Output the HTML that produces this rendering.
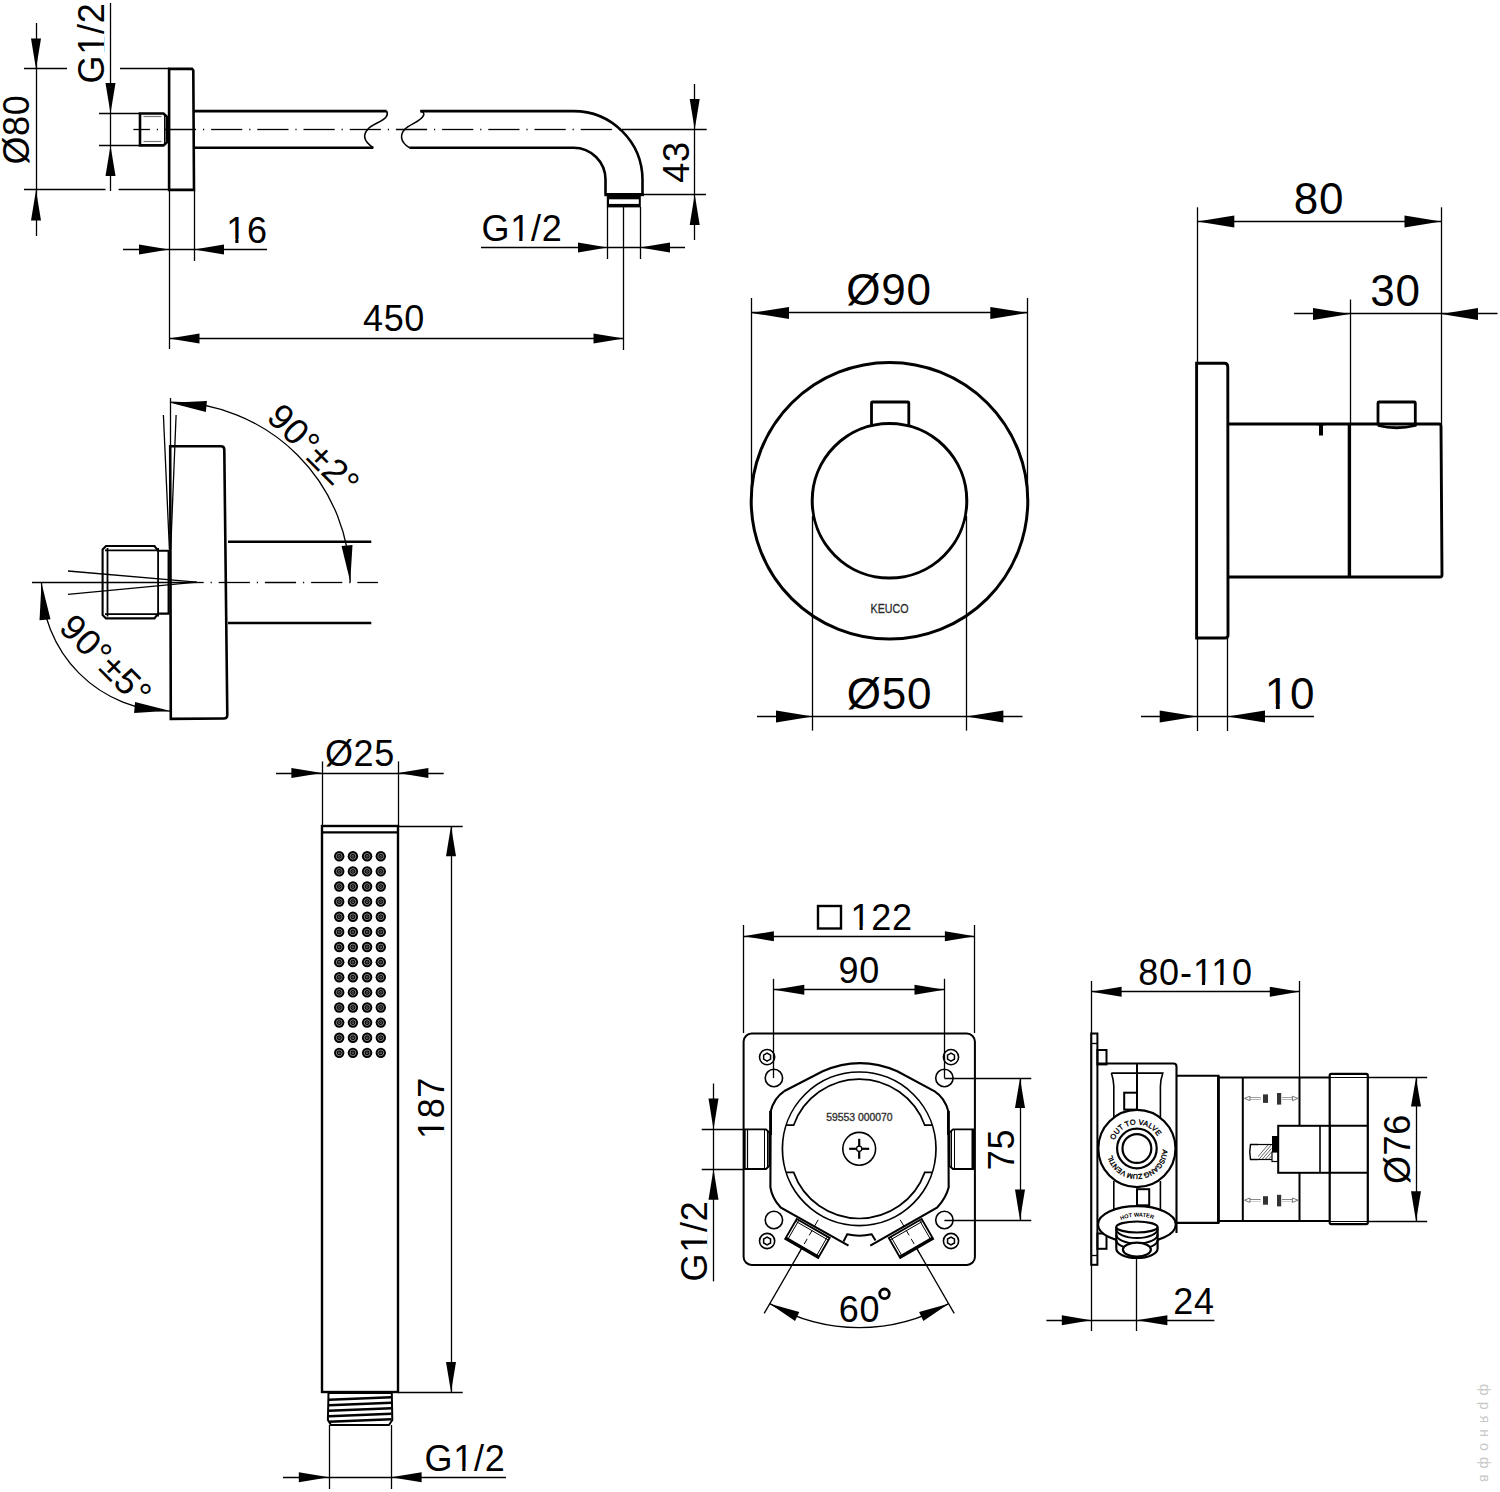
<!DOCTYPE html>
<html><head><meta charset="utf-8"><title>drawing</title>
<style>html,body{margin:0;padding:0;background:#fff;width:1500px;height:1492px;overflow:hidden}svg{display:block}text{font-family:"Liberation Sans",sans-serif}</style>
</head><body>
<svg width="1500" height="1492" viewBox="0 0 1500 1492" stroke="#000" stroke-linecap="butt" fill="none" font-family="Liberation Sans, sans-serif">
<line x1="36.5" y1="23" x2="36.5" y2="236" stroke-width="1.3"/>
<path d="M36 68.9 L31 38.5 L41 38.5 Z" fill="#000" stroke="none"/>
<path d="M36 189.9 L41 220.5 L31 220.5 Z" fill="#000" stroke="none"/>
<line x1="24" y1="68.5" x2="67" y2="68.5" stroke-width="1.3"/>
<line x1="120" y1="68.5" x2="169" y2="68.5" stroke-width="1.3"/>
<line x1="24" y1="189.5" x2="105.5" y2="189.5" stroke-width="1.3"/>
<line x1="118.6" y1="189.5" x2="169" y2="189.5" stroke-width="1.3"/>
<text x="29" y="129.5" font-size="36" text-anchor="middle" fill="#000" stroke="none" transform="rotate(-90 29 129.5)" letter-spacing="0.7">Ø80</text>
<line x1="110.5" y1="3" x2="110.5" y2="191" stroke-width="1.3"/>
<path d="M110.5 113.5 L105.5 83 L115.5 83 Z" fill="#000" stroke="none"/>
<path d="M110.5 145.4 L115.5 176 L105.5 176 Z" fill="#000" stroke="none"/>
<line x1="99" y1="113.5" x2="140" y2="113.5" stroke-width="1.3"/>
<line x1="99" y1="145.5" x2="140" y2="145.5" stroke-width="1.3"/>
<text x="103.5" y="43" font-size="36" text-anchor="middle" fill="#000" stroke="none" transform="rotate(-90 103.5 43)" letter-spacing="0.7">G1/2</text>
<path d="M140 113.5 L163.5 113.5 L166.7 116.5 L166.7 142.5 L163.5 145.4 L140 145.4 Z" stroke-width="2.6" fill="none"/>
<line x1="143.5" y1="116.5" x2="161.5" y2="116.5" stroke-width="1.2" stroke="#777"/>
<line x1="143.5" y1="141.5" x2="161.5" y2="141.5" stroke-width="1.2" stroke="#777"/>
<line x1="164.5" y1="115" x2="164.5" y2="144" stroke-width="1"/>
<path d="M169.1 68.9 L192 68.9 L193.3 70.5 L194 189.9 L169.1 189.9 Z" stroke-width="2.6" fill="none"/>
<path d="M193.5 111.1 L386.7 111.1" stroke-width="2.6" fill="none"/>
<path d="M193.5 147.7 L373.3 147.7" stroke-width="2.6" fill="none"/>
<path d="M386.7 111.1 C387.5 113 387.5 115 386.5 116.3 C383 122 372 124 368 129 C363.5 134 362 140 373.3 147.7" stroke-width="1.6" fill="none"/>
<path d="M420.3 111.1 C423 111.5 424.2 113 423.7 115 C422 121 410 124 405 129 C400.5 134 399 141 409.3 147.7" stroke-width="1.6" fill="none"/>
<path d="M409.3 147.7 L573.5 147.7 A32 32 0 0 1 605.5 179.6 L605.5 193.5" stroke-width="2.6" fill="none"/>
<path d="M420.3 111.1 L573.5 111.1 A69 69 0 0 1 642.5 179.6 L642.5 193.5" stroke-width="2.6" fill="none"/>
<rect x="604.3" y="193" width="39.6" height="3.2" rx="0" stroke-width="0" fill="#000" stroke="none"/>
<rect x="606.8" y="196" width="34" height="11.4" rx="0" stroke-width="0" fill="#000" stroke="none"/>
<rect x="609" y="199.3" width="29.8" height="4.6" rx="0" stroke-width="0" fill="#fff" stroke="none"/>
<line x1="133.4" y1="129.5" x2="149.9" y2="129.5" stroke-width="1.3"/>
<line x1="156.8" y1="129.5" x2="158" y2="129.5" stroke-width="1.3"/>
<line x1="164.9" y1="129.5" x2="196.1" y2="129.5" stroke-width="1.3"/>
<line x1="203" y1="129.5" x2="204.2" y2="129.5" stroke-width="1.3"/>
<line x1="211.1" y1="129.5" x2="242.3" y2="129.5" stroke-width="1.3"/>
<line x1="249.2" y1="129.5" x2="250.4" y2="129.5" stroke-width="1.3"/>
<line x1="257.3" y1="129.5" x2="288.5" y2="129.5" stroke-width="1.3"/>
<line x1="295.4" y1="129.5" x2="296.6" y2="129.5" stroke-width="1.3"/>
<line x1="303.5" y1="129.5" x2="334.7" y2="129.5" stroke-width="1.3"/>
<line x1="341.6" y1="129.5" x2="342.8" y2="129.5" stroke-width="1.3"/>
<line x1="349.7" y1="129.5" x2="380.9" y2="129.5" stroke-width="1.3"/>
<line x1="387.8" y1="129.5" x2="389" y2="129.5" stroke-width="1.3"/>
<line x1="395.9" y1="129.5" x2="427.1" y2="129.5" stroke-width="1.3"/>
<line x1="434" y1="129.5" x2="435.2" y2="129.5" stroke-width="1.3"/>
<line x1="442.1" y1="129.5" x2="473.3" y2="129.5" stroke-width="1.3"/>
<line x1="480.2" y1="129.5" x2="481.4" y2="129.5" stroke-width="1.3"/>
<line x1="488.3" y1="129.5" x2="519.5" y2="129.5" stroke-width="1.3"/>
<line x1="526.4" y1="129.5" x2="527.6" y2="129.5" stroke-width="1.3"/>
<line x1="534.5" y1="129.5" x2="565.7" y2="129.5" stroke-width="1.3"/>
<line x1="572.6" y1="129.5" x2="573.8" y2="129.5" stroke-width="1.3"/>
<line x1="580.7" y1="129.5" x2="611.9" y2="129.5" stroke-width="1.3"/>
<line x1="618.8" y1="129.5" x2="620" y2="129.5" stroke-width="1.3"/>
<line x1="622" y1="129.5" x2="706.7" y2="129.5" stroke-width="1.3"/>
<line x1="694.5" y1="84" x2="694.5" y2="240" stroke-width="1.3"/>
<path d="M694.7 129.4 L689.7 99 L699.7 99 Z" fill="#000" stroke="none"/>
<path d="M694.7 194.3 L699.7 225 L689.7 225 Z" fill="#000" stroke="none"/>
<line x1="642.6" y1="194.5" x2="706" y2="194.5" stroke-width="1.3"/>
<text x="689" y="162" font-size="36" text-anchor="middle" fill="#000" stroke="none" transform="rotate(-90 689 162)" letter-spacing="0.7">43</text>
<line x1="481" y1="247.5" x2="685" y2="247.5" stroke-width="1.3"/>
<path d="M607.5 247.5 L578 252.5 L578 242.5 Z" fill="#000" stroke="none"/>
<path d="M640 247.5 L670 242.5 L670 252.5 Z" fill="#000" stroke="none"/>
<line x1="607.5" y1="207" x2="607.5" y2="259" stroke-width="1.3"/>
<line x1="640.5" y1="207" x2="640.5" y2="259" stroke-width="1.3"/>
<text x="522" y="241.3" font-size="36" text-anchor="middle" fill="#000" stroke="none" letter-spacing="0.7">G1/2</text>
<line x1="623.5" y1="207" x2="623.5" y2="350" stroke-width="1.3"/>
<line x1="123" y1="249.5" x2="267" y2="249.5" stroke-width="1.3"/>
<path d="M169 249.5 L139 254.5 L139 244.5 Z" fill="#000" stroke="none"/>
<path d="M194 249.5 L224 244.5 L224 254.5 Z" fill="#000" stroke="none"/>
<line x1="169.5" y1="190" x2="169.5" y2="349" stroke-width="1.3"/>
<line x1="194.5" y1="190" x2="194.5" y2="261" stroke-width="1.3"/>
<text x="247" y="242.5" font-size="36" text-anchor="middle" fill="#000" stroke="none" letter-spacing="0.7">16</text>
<line x1="169.1" y1="338.5" x2="623.8" y2="338.5" stroke-width="1.3"/>
<path d="M169.1 338.5 L199.5 333.5 L199.5 343.5 Z" fill="#000" stroke="none"/>
<path d="M623.8 338.5 L593.5 343.5 L593.5 333.5 Z" fill="#000" stroke="none"/>
<text x="394" y="330.5" font-size="36" text-anchor="middle" fill="#000" stroke="none" letter-spacing="0.7">450</text>
<path d="M170.2 446.3 L221 446.3 Q224.1 446.3 224.3 449.5 L227.3 715 Q227.3 718.5 224 718.5 L170.8 718.9 Z" stroke-width="2.6" fill="none"/>
<line x1="228" y1="541.8" x2="371.3" y2="541.8" stroke-width="2.6"/>
<line x1="228" y1="623" x2="371.3" y2="623" stroke-width="2.6"/>
<path d="M106 546 L154.5 546 L158.1 550.8 L168.6 550.8 L168.6 613.6 L158.1 613.6 L154.5 618.4 L106 618.4 L102.6 615 L102.6 549.5 Z" stroke-width="2.1" fill="none"/>
<line x1="105" y1="550.3" x2="157" y2="550.3" stroke-width="1.8"/>
<line x1="105" y1="614.2" x2="157" y2="614.2" stroke-width="1.8"/>
<line x1="107.5" y1="548" x2="107.5" y2="616.5" stroke-width="1.8"/>
<line x1="158.1" y1="548" x2="158.1" y2="616.5" stroke-width="1.8"/>
<line x1="32" y1="582.5" x2="196.7" y2="582.5" stroke-width="1.3"/>
<line x1="196.7" y1="582.5" x2="203.7" y2="582.5" stroke-width="1.3"/>
<line x1="210.6" y1="582.5" x2="211.8" y2="582.5" stroke-width="1.3"/>
<line x1="218.7" y1="582.5" x2="249.9" y2="582.5" stroke-width="1.3"/>
<line x1="256.8" y1="582.5" x2="258" y2="582.5" stroke-width="1.3"/>
<line x1="264.9" y1="582.5" x2="296.1" y2="582.5" stroke-width="1.3"/>
<line x1="303" y1="582.5" x2="304.2" y2="582.5" stroke-width="1.3"/>
<line x1="311.1" y1="582.5" x2="342.3" y2="582.5" stroke-width="1.3"/>
<line x1="349.2" y1="582.5" x2="350.4" y2="582.5" stroke-width="1.3"/>
<line x1="357.3" y1="582.5" x2="378" y2="582.5" stroke-width="1.3"/>
<line x1="68" y1="571" x2="196.7" y2="582.2" stroke-width="1.3"/>
<line x1="68" y1="594.3" x2="196.7" y2="582.2" stroke-width="1.3"/>
<line x1="170.5" y1="398" x2="170.5" y2="446" stroke-width="1.3"/>
<line x1="163.4" y1="415" x2="169.4" y2="549.2" stroke-width="1.3"/>
<line x1="176.1" y1="415" x2="170.7" y2="549.2" stroke-width="1.3"/>
<path d="M170.2 402.2 A180 180 0 0 1 350.2 582.2" stroke-width="1.3" fill="none"/>
<path d="M170.2 402.8 L206.96 401.03 L205.84 411.97 Z" fill="#000" stroke="none"/>
<path d="M350.2 581.5 L341.52 545.99 L352.48 545.01 Z" fill="#000" stroke="none"/>
<text x="305" y="458.4" font-size="36" text-anchor="middle" fill="#000" stroke="none" transform="rotate(45 305 458.4)" letter-spacing="0.6">90°±2°</text>
<path d="M41.5 582.4 A128.7 128.7 0 0 0 170.2 711.1" stroke-width="1.3" fill="none"/>
<path d="M41.5 583 L50.48 619.18 L39.52 620.22 Z" fill="#000" stroke="none"/>
<path d="M169.5 710.8 L134.1 713.08 L135.1 702.12 Z" fill="#000" stroke="none"/>
<text x="97.3" y="669" font-size="36" text-anchor="middle" fill="#000" stroke="none" transform="rotate(45 97.3 669)" letter-spacing="0.6">90°±5°</text>
<circle cx="889.5" cy="500.8" r="138.3" stroke-width="3" fill="none"/>
<circle cx="889.5" cy="500.8" r="77.3" stroke-width="3" fill="none"/>
<path d="M871.5 426.5 L871.5 403 Q871.5 402 872.5 402 L907.8 402 Q908.8 402 908.8 403 L908.8 426.5" stroke-width="2.8" fill="none"/>
<line x1="751.5" y1="298" x2="751.5" y2="501" stroke-width="1.3"/>
<line x1="1027.5" y1="298" x2="1027.5" y2="501" stroke-width="1.3"/>
<line x1="751.3" y1="312.5" x2="1027.7" y2="312.5" stroke-width="1.3"/>
<path d="M751.3 312.9 L789 306.9 L789 318.9 Z" fill="#000" stroke="none"/>
<path d="M1027.7 312.9 L990.3 318.9 L990.3 306.9 Z" fill="#000" stroke="none"/>
<text x="889" y="304.5" font-size="44" text-anchor="middle" fill="#000" stroke="none" letter-spacing="0.7">Ø90</text>
<line x1="812.5" y1="516" x2="812.5" y2="730.6" stroke-width="1.3"/>
<line x1="966.5" y1="516" x2="966.5" y2="730.6" stroke-width="1.3"/>
<line x1="757" y1="716.5" x2="1022.5" y2="716.5" stroke-width="1.3"/>
<path d="M812.8 716.5 L776 722.5 L776 710.5 Z" fill="#000" stroke="none"/>
<path d="M966.2 716.5 L1003.4 710.5 L1003.4 722.5 Z" fill="#000" stroke="none"/>
<text x="889.5" y="708.8" font-size="44" text-anchor="middle" fill="#000" stroke="none" letter-spacing="0.7">Ø50</text>
<text x="870.6" y="612.8" font-size="13.6" fill="#2a2a2a" stroke="#2a2a2a" stroke-width="0.3" textLength="38" lengthAdjust="spacingAndGlyphs">KEUCO</text>
<line x1="1197.5" y1="207.3" x2="1197.5" y2="363" stroke-width="1.3"/>
<line x1="1441.5" y1="207.3" x2="1441.5" y2="424" stroke-width="1.3"/>
<line x1="1197.4" y1="221.5" x2="1441.2" y2="221.5" stroke-width="1.3"/>
<path d="M1197.4 221.6 L1234.3 215.6 L1234.3 227.6 Z" fill="#000" stroke="none"/>
<path d="M1441.2 221.6 L1404.5 227.6 L1404.5 215.6 Z" fill="#000" stroke="none"/>
<text x="1319" y="214" font-size="44" text-anchor="middle" fill="#000" stroke="none" letter-spacing="0.7">80</text>
<line x1="1294" y1="313.5" x2="1497.5" y2="313.5" stroke-width="1.3"/>
<path d="M1350 313.9 L1313 319.9 L1313 307.9 Z" fill="#000" stroke="none"/>
<path d="M1441.2 313.9 L1478 307.9 L1478 319.9 Z" fill="#000" stroke="none"/>
<line x1="1350.5" y1="299.5" x2="1350.5" y2="424" stroke-width="1.3"/>
<text x="1395.5" y="305.8" font-size="44" text-anchor="middle" fill="#000" stroke="none" letter-spacing="0.7">30</text>
<path d="M1196.6 638 L1196.6 363.3 L1224.5 363.3 Q1227.6 363.3 1227.8 366.8 L1228 635 Q1228 638 1225 638 Z" stroke-width="2.9" fill="none"/>
<path d="M1228 424 L1439 424 Q1441 424 1441 426 L1442 575 Q1442 577 1440 577 L1228 577" stroke-width="2.9" fill="none"/>
<line x1="1349.4" y1="424" x2="1349.4" y2="577" stroke-width="3.4"/>
<line x1="1321" y1="424" x2="1321" y2="435.5" stroke-width="4"/>
<line x1="1316.5" y1="424.3" x2="1325.5" y2="424.3" stroke-width="2"/>
<path d="M1378 425.5 L1378 403 Q1378 402 1379 402 L1414.3 402 Q1415.3 402 1415.3 403 L1415.3 425.5 Q1396.6 430 1378 425.5" stroke-width="2.8" fill="none"/>
<line x1="1197.5" y1="638" x2="1197.5" y2="731" stroke-width="1.3"/>
<line x1="1227.5" y1="638" x2="1227.5" y2="731" stroke-width="1.3"/>
<line x1="1141" y1="716.5" x2="1314" y2="716.5" stroke-width="1.3"/>
<path d="M1197 716.6 L1159.7 722.6 L1159.7 710.6 Z" fill="#000" stroke="none"/>
<path d="M1227.5 716.6 L1265 710.6 L1265 722.6 Z" fill="#000" stroke="none"/>
<text x="1290" y="708.5" font-size="44" text-anchor="middle" fill="#000" stroke="none" letter-spacing="0.7">10</text>
<line x1="276" y1="773.5" x2="443.7" y2="773.5" stroke-width="1.3"/>
<path d="M322 773 L291.4 778 L291.4 768 Z" fill="#000" stroke="none"/>
<path d="M398 773 L428.4 768 L428.4 778 Z" fill="#000" stroke="none"/>
<line x1="322.5" y1="761.4" x2="322.5" y2="826" stroke-width="1.3"/>
<line x1="398.5" y1="761.4" x2="398.5" y2="826" stroke-width="1.3"/>
<text x="360" y="765.5" font-size="36" text-anchor="middle" fill="#000" stroke="none" letter-spacing="0.7">Ø25</text>
<rect x="322" y="826" width="76" height="566" rx="0" stroke-width="2.4" fill="none"/>
<line x1="322" y1="832.3" x2="398" y2="832.3" stroke-width="2.2"/>
<line x1="398" y1="826.5" x2="462.7" y2="826.5" stroke-width="1.3"/>
<line x1="398" y1="1392.5" x2="462.7" y2="1392.5" stroke-width="1.3"/>
<line x1="451.5" y1="826" x2="451.5" y2="1392" stroke-width="1.3"/>
<path d="M451 826 L456 856.3 L446 856.3 Z" fill="#000" stroke="none"/>
<path d="M451 1392 L446 1362 L456 1362 Z" fill="#000" stroke="none"/>
<text x="444.2" y="1108" font-size="36" text-anchor="middle" fill="#000" stroke="none" transform="rotate(-90 444.2 1108)" letter-spacing="0.7">187</text>
<circle cx="339.2" cy="856.3" r="5.2" stroke-width="0" fill="#000" stroke="none"/>
<circle cx="339.2" cy="856.3" r="2.9" stroke-width="0.75" fill="none" stroke="#aaa"/>
<circle cx="339.2" cy="856.3" r="1" stroke-width="0.6" fill="none" stroke="#999"/>
<circle cx="352.9" cy="856.3" r="5.2" stroke-width="0" fill="#000" stroke="none"/>
<circle cx="352.9" cy="856.3" r="2.9" stroke-width="0.75" fill="none" stroke="#aaa"/>
<circle cx="352.9" cy="856.3" r="1" stroke-width="0.6" fill="none" stroke="#999"/>
<circle cx="367.1" cy="856.3" r="5.2" stroke-width="0" fill="#000" stroke="none"/>
<circle cx="367.1" cy="856.3" r="2.9" stroke-width="0.75" fill="none" stroke="#aaa"/>
<circle cx="367.1" cy="856.3" r="1" stroke-width="0.6" fill="none" stroke="#999"/>
<circle cx="380.8" cy="856.3" r="5.2" stroke-width="0" fill="#000" stroke="none"/>
<circle cx="380.8" cy="856.3" r="2.9" stroke-width="0.75" fill="none" stroke="#aaa"/>
<circle cx="380.8" cy="856.3" r="1" stroke-width="0.6" fill="none" stroke="#999"/>
<circle cx="339.2" cy="871.42" r="5.2" stroke-width="0" fill="#000" stroke="none"/>
<circle cx="339.2" cy="871.42" r="2.9" stroke-width="0.75" fill="none" stroke="#aaa"/>
<circle cx="339.2" cy="871.42" r="1" stroke-width="0.6" fill="none" stroke="#999"/>
<circle cx="352.9" cy="871.42" r="5.2" stroke-width="0" fill="#000" stroke="none"/>
<circle cx="352.9" cy="871.42" r="2.9" stroke-width="0.75" fill="none" stroke="#aaa"/>
<circle cx="352.9" cy="871.42" r="1" stroke-width="0.6" fill="none" stroke="#999"/>
<circle cx="367.1" cy="871.42" r="5.2" stroke-width="0" fill="#000" stroke="none"/>
<circle cx="367.1" cy="871.42" r="2.9" stroke-width="0.75" fill="none" stroke="#aaa"/>
<circle cx="367.1" cy="871.42" r="1" stroke-width="0.6" fill="none" stroke="#999"/>
<circle cx="380.8" cy="871.42" r="5.2" stroke-width="0" fill="#000" stroke="none"/>
<circle cx="380.8" cy="871.42" r="2.9" stroke-width="0.75" fill="none" stroke="#aaa"/>
<circle cx="380.8" cy="871.42" r="1" stroke-width="0.6" fill="none" stroke="#999"/>
<circle cx="339.2" cy="886.54" r="5.2" stroke-width="0" fill="#000" stroke="none"/>
<circle cx="339.2" cy="886.54" r="2.9" stroke-width="0.75" fill="none" stroke="#aaa"/>
<circle cx="339.2" cy="886.54" r="1" stroke-width="0.6" fill="none" stroke="#999"/>
<circle cx="352.9" cy="886.54" r="5.2" stroke-width="0" fill="#000" stroke="none"/>
<circle cx="352.9" cy="886.54" r="2.9" stroke-width="0.75" fill="none" stroke="#aaa"/>
<circle cx="352.9" cy="886.54" r="1" stroke-width="0.6" fill="none" stroke="#999"/>
<circle cx="367.1" cy="886.54" r="5.2" stroke-width="0" fill="#000" stroke="none"/>
<circle cx="367.1" cy="886.54" r="2.9" stroke-width="0.75" fill="none" stroke="#aaa"/>
<circle cx="367.1" cy="886.54" r="1" stroke-width="0.6" fill="none" stroke="#999"/>
<circle cx="380.8" cy="886.54" r="5.2" stroke-width="0" fill="#000" stroke="none"/>
<circle cx="380.8" cy="886.54" r="2.9" stroke-width="0.75" fill="none" stroke="#aaa"/>
<circle cx="380.8" cy="886.54" r="1" stroke-width="0.6" fill="none" stroke="#999"/>
<circle cx="339.2" cy="901.66" r="5.2" stroke-width="0" fill="#000" stroke="none"/>
<circle cx="339.2" cy="901.66" r="2.9" stroke-width="0.75" fill="none" stroke="#aaa"/>
<circle cx="339.2" cy="901.66" r="1" stroke-width="0.6" fill="none" stroke="#999"/>
<circle cx="352.9" cy="901.66" r="5.2" stroke-width="0" fill="#000" stroke="none"/>
<circle cx="352.9" cy="901.66" r="2.9" stroke-width="0.75" fill="none" stroke="#aaa"/>
<circle cx="352.9" cy="901.66" r="1" stroke-width="0.6" fill="none" stroke="#999"/>
<circle cx="367.1" cy="901.66" r="5.2" stroke-width="0" fill="#000" stroke="none"/>
<circle cx="367.1" cy="901.66" r="2.9" stroke-width="0.75" fill="none" stroke="#aaa"/>
<circle cx="367.1" cy="901.66" r="1" stroke-width="0.6" fill="none" stroke="#999"/>
<circle cx="380.8" cy="901.66" r="5.2" stroke-width="0" fill="#000" stroke="none"/>
<circle cx="380.8" cy="901.66" r="2.9" stroke-width="0.75" fill="none" stroke="#aaa"/>
<circle cx="380.8" cy="901.66" r="1" stroke-width="0.6" fill="none" stroke="#999"/>
<circle cx="339.2" cy="916.78" r="5.2" stroke-width="0" fill="#000" stroke="none"/>
<circle cx="339.2" cy="916.78" r="2.9" stroke-width="0.75" fill="none" stroke="#aaa"/>
<circle cx="339.2" cy="916.78" r="1" stroke-width="0.6" fill="none" stroke="#999"/>
<circle cx="352.9" cy="916.78" r="5.2" stroke-width="0" fill="#000" stroke="none"/>
<circle cx="352.9" cy="916.78" r="2.9" stroke-width="0.75" fill="none" stroke="#aaa"/>
<circle cx="352.9" cy="916.78" r="1" stroke-width="0.6" fill="none" stroke="#999"/>
<circle cx="367.1" cy="916.78" r="5.2" stroke-width="0" fill="#000" stroke="none"/>
<circle cx="367.1" cy="916.78" r="2.9" stroke-width="0.75" fill="none" stroke="#aaa"/>
<circle cx="367.1" cy="916.78" r="1" stroke-width="0.6" fill="none" stroke="#999"/>
<circle cx="380.8" cy="916.78" r="5.2" stroke-width="0" fill="#000" stroke="none"/>
<circle cx="380.8" cy="916.78" r="2.9" stroke-width="0.75" fill="none" stroke="#aaa"/>
<circle cx="380.8" cy="916.78" r="1" stroke-width="0.6" fill="none" stroke="#999"/>
<circle cx="339.2" cy="931.9" r="5.2" stroke-width="0" fill="#000" stroke="none"/>
<circle cx="339.2" cy="931.9" r="2.9" stroke-width="0.75" fill="none" stroke="#aaa"/>
<circle cx="339.2" cy="931.9" r="1" stroke-width="0.6" fill="none" stroke="#999"/>
<circle cx="352.9" cy="931.9" r="5.2" stroke-width="0" fill="#000" stroke="none"/>
<circle cx="352.9" cy="931.9" r="2.9" stroke-width="0.75" fill="none" stroke="#aaa"/>
<circle cx="352.9" cy="931.9" r="1" stroke-width="0.6" fill="none" stroke="#999"/>
<circle cx="367.1" cy="931.9" r="5.2" stroke-width="0" fill="#000" stroke="none"/>
<circle cx="367.1" cy="931.9" r="2.9" stroke-width="0.75" fill="none" stroke="#aaa"/>
<circle cx="367.1" cy="931.9" r="1" stroke-width="0.6" fill="none" stroke="#999"/>
<circle cx="380.8" cy="931.9" r="5.2" stroke-width="0" fill="#000" stroke="none"/>
<circle cx="380.8" cy="931.9" r="2.9" stroke-width="0.75" fill="none" stroke="#aaa"/>
<circle cx="380.8" cy="931.9" r="1" stroke-width="0.6" fill="none" stroke="#999"/>
<circle cx="339.2" cy="947.02" r="5.2" stroke-width="0" fill="#000" stroke="none"/>
<circle cx="339.2" cy="947.02" r="2.9" stroke-width="0.75" fill="none" stroke="#aaa"/>
<circle cx="339.2" cy="947.02" r="1" stroke-width="0.6" fill="none" stroke="#999"/>
<circle cx="352.9" cy="947.02" r="5.2" stroke-width="0" fill="#000" stroke="none"/>
<circle cx="352.9" cy="947.02" r="2.9" stroke-width="0.75" fill="none" stroke="#aaa"/>
<circle cx="352.9" cy="947.02" r="1" stroke-width="0.6" fill="none" stroke="#999"/>
<circle cx="367.1" cy="947.02" r="5.2" stroke-width="0" fill="#000" stroke="none"/>
<circle cx="367.1" cy="947.02" r="2.9" stroke-width="0.75" fill="none" stroke="#aaa"/>
<circle cx="367.1" cy="947.02" r="1" stroke-width="0.6" fill="none" stroke="#999"/>
<circle cx="380.8" cy="947.02" r="5.2" stroke-width="0" fill="#000" stroke="none"/>
<circle cx="380.8" cy="947.02" r="2.9" stroke-width="0.75" fill="none" stroke="#aaa"/>
<circle cx="380.8" cy="947.02" r="1" stroke-width="0.6" fill="none" stroke="#999"/>
<circle cx="339.2" cy="962.14" r="5.2" stroke-width="0" fill="#000" stroke="none"/>
<circle cx="339.2" cy="962.14" r="2.9" stroke-width="0.75" fill="none" stroke="#aaa"/>
<circle cx="339.2" cy="962.14" r="1" stroke-width="0.6" fill="none" stroke="#999"/>
<circle cx="352.9" cy="962.14" r="5.2" stroke-width="0" fill="#000" stroke="none"/>
<circle cx="352.9" cy="962.14" r="2.9" stroke-width="0.75" fill="none" stroke="#aaa"/>
<circle cx="352.9" cy="962.14" r="1" stroke-width="0.6" fill="none" stroke="#999"/>
<circle cx="367.1" cy="962.14" r="5.2" stroke-width="0" fill="#000" stroke="none"/>
<circle cx="367.1" cy="962.14" r="2.9" stroke-width="0.75" fill="none" stroke="#aaa"/>
<circle cx="367.1" cy="962.14" r="1" stroke-width="0.6" fill="none" stroke="#999"/>
<circle cx="380.8" cy="962.14" r="5.2" stroke-width="0" fill="#000" stroke="none"/>
<circle cx="380.8" cy="962.14" r="2.9" stroke-width="0.75" fill="none" stroke="#aaa"/>
<circle cx="380.8" cy="962.14" r="1" stroke-width="0.6" fill="none" stroke="#999"/>
<circle cx="339.2" cy="977.26" r="5.2" stroke-width="0" fill="#000" stroke="none"/>
<circle cx="339.2" cy="977.26" r="2.9" stroke-width="0.75" fill="none" stroke="#aaa"/>
<circle cx="339.2" cy="977.26" r="1" stroke-width="0.6" fill="none" stroke="#999"/>
<circle cx="352.9" cy="977.26" r="5.2" stroke-width="0" fill="#000" stroke="none"/>
<circle cx="352.9" cy="977.26" r="2.9" stroke-width="0.75" fill="none" stroke="#aaa"/>
<circle cx="352.9" cy="977.26" r="1" stroke-width="0.6" fill="none" stroke="#999"/>
<circle cx="367.1" cy="977.26" r="5.2" stroke-width="0" fill="#000" stroke="none"/>
<circle cx="367.1" cy="977.26" r="2.9" stroke-width="0.75" fill="none" stroke="#aaa"/>
<circle cx="367.1" cy="977.26" r="1" stroke-width="0.6" fill="none" stroke="#999"/>
<circle cx="380.8" cy="977.26" r="5.2" stroke-width="0" fill="#000" stroke="none"/>
<circle cx="380.8" cy="977.26" r="2.9" stroke-width="0.75" fill="none" stroke="#aaa"/>
<circle cx="380.8" cy="977.26" r="1" stroke-width="0.6" fill="none" stroke="#999"/>
<circle cx="339.2" cy="992.38" r="5.2" stroke-width="0" fill="#000" stroke="none"/>
<circle cx="339.2" cy="992.38" r="2.9" stroke-width="0.75" fill="none" stroke="#aaa"/>
<circle cx="339.2" cy="992.38" r="1" stroke-width="0.6" fill="none" stroke="#999"/>
<circle cx="352.9" cy="992.38" r="5.2" stroke-width="0" fill="#000" stroke="none"/>
<circle cx="352.9" cy="992.38" r="2.9" stroke-width="0.75" fill="none" stroke="#aaa"/>
<circle cx="352.9" cy="992.38" r="1" stroke-width="0.6" fill="none" stroke="#999"/>
<circle cx="367.1" cy="992.38" r="5.2" stroke-width="0" fill="#000" stroke="none"/>
<circle cx="367.1" cy="992.38" r="2.9" stroke-width="0.75" fill="none" stroke="#aaa"/>
<circle cx="367.1" cy="992.38" r="1" stroke-width="0.6" fill="none" stroke="#999"/>
<circle cx="380.8" cy="992.38" r="5.2" stroke-width="0" fill="#000" stroke="none"/>
<circle cx="380.8" cy="992.38" r="2.9" stroke-width="0.75" fill="none" stroke="#aaa"/>
<circle cx="380.8" cy="992.38" r="1" stroke-width="0.6" fill="none" stroke="#999"/>
<circle cx="339.2" cy="1007.5" r="5.2" stroke-width="0" fill="#000" stroke="none"/>
<circle cx="339.2" cy="1007.5" r="2.9" stroke-width="0.75" fill="none" stroke="#aaa"/>
<circle cx="339.2" cy="1007.5" r="1" stroke-width="0.6" fill="none" stroke="#999"/>
<circle cx="352.9" cy="1007.5" r="5.2" stroke-width="0" fill="#000" stroke="none"/>
<circle cx="352.9" cy="1007.5" r="2.9" stroke-width="0.75" fill="none" stroke="#aaa"/>
<circle cx="352.9" cy="1007.5" r="1" stroke-width="0.6" fill="none" stroke="#999"/>
<circle cx="367.1" cy="1007.5" r="5.2" stroke-width="0" fill="#000" stroke="none"/>
<circle cx="367.1" cy="1007.5" r="2.9" stroke-width="0.75" fill="none" stroke="#aaa"/>
<circle cx="367.1" cy="1007.5" r="1" stroke-width="0.6" fill="none" stroke="#999"/>
<circle cx="380.8" cy="1007.5" r="5.2" stroke-width="0" fill="#000" stroke="none"/>
<circle cx="380.8" cy="1007.5" r="2.9" stroke-width="0.75" fill="none" stroke="#aaa"/>
<circle cx="380.8" cy="1007.5" r="1" stroke-width="0.6" fill="none" stroke="#999"/>
<circle cx="339.2" cy="1022.62" r="5.2" stroke-width="0" fill="#000" stroke="none"/>
<circle cx="339.2" cy="1022.62" r="2.9" stroke-width="0.75" fill="none" stroke="#aaa"/>
<circle cx="339.2" cy="1022.62" r="1" stroke-width="0.6" fill="none" stroke="#999"/>
<circle cx="352.9" cy="1022.62" r="5.2" stroke-width="0" fill="#000" stroke="none"/>
<circle cx="352.9" cy="1022.62" r="2.9" stroke-width="0.75" fill="none" stroke="#aaa"/>
<circle cx="352.9" cy="1022.62" r="1" stroke-width="0.6" fill="none" stroke="#999"/>
<circle cx="367.1" cy="1022.62" r="5.2" stroke-width="0" fill="#000" stroke="none"/>
<circle cx="367.1" cy="1022.62" r="2.9" stroke-width="0.75" fill="none" stroke="#aaa"/>
<circle cx="367.1" cy="1022.62" r="1" stroke-width="0.6" fill="none" stroke="#999"/>
<circle cx="380.8" cy="1022.62" r="5.2" stroke-width="0" fill="#000" stroke="none"/>
<circle cx="380.8" cy="1022.62" r="2.9" stroke-width="0.75" fill="none" stroke="#aaa"/>
<circle cx="380.8" cy="1022.62" r="1" stroke-width="0.6" fill="none" stroke="#999"/>
<circle cx="339.2" cy="1037.74" r="5.2" stroke-width="0" fill="#000" stroke="none"/>
<circle cx="339.2" cy="1037.74" r="2.9" stroke-width="0.75" fill="none" stroke="#aaa"/>
<circle cx="339.2" cy="1037.74" r="1" stroke-width="0.6" fill="none" stroke="#999"/>
<circle cx="352.9" cy="1037.74" r="5.2" stroke-width="0" fill="#000" stroke="none"/>
<circle cx="352.9" cy="1037.74" r="2.9" stroke-width="0.75" fill="none" stroke="#aaa"/>
<circle cx="352.9" cy="1037.74" r="1" stroke-width="0.6" fill="none" stroke="#999"/>
<circle cx="367.1" cy="1037.74" r="5.2" stroke-width="0" fill="#000" stroke="none"/>
<circle cx="367.1" cy="1037.74" r="2.9" stroke-width="0.75" fill="none" stroke="#aaa"/>
<circle cx="367.1" cy="1037.74" r="1" stroke-width="0.6" fill="none" stroke="#999"/>
<circle cx="380.8" cy="1037.74" r="5.2" stroke-width="0" fill="#000" stroke="none"/>
<circle cx="380.8" cy="1037.74" r="2.9" stroke-width="0.75" fill="none" stroke="#aaa"/>
<circle cx="380.8" cy="1037.74" r="1" stroke-width="0.6" fill="none" stroke="#999"/>
<circle cx="339.2" cy="1052.86" r="5.2" stroke-width="0" fill="#000" stroke="none"/>
<circle cx="339.2" cy="1052.86" r="2.9" stroke-width="0.75" fill="none" stroke="#aaa"/>
<circle cx="339.2" cy="1052.86" r="1" stroke-width="0.6" fill="none" stroke="#999"/>
<circle cx="352.9" cy="1052.86" r="5.2" stroke-width="0" fill="#000" stroke="none"/>
<circle cx="352.9" cy="1052.86" r="2.9" stroke-width="0.75" fill="none" stroke="#aaa"/>
<circle cx="352.9" cy="1052.86" r="1" stroke-width="0.6" fill="none" stroke="#999"/>
<circle cx="367.1" cy="1052.86" r="5.2" stroke-width="0" fill="#000" stroke="none"/>
<circle cx="367.1" cy="1052.86" r="2.9" stroke-width="0.75" fill="none" stroke="#aaa"/>
<circle cx="367.1" cy="1052.86" r="1" stroke-width="0.6" fill="none" stroke="#999"/>
<circle cx="380.8" cy="1052.86" r="5.2" stroke-width="0" fill="#000" stroke="none"/>
<circle cx="380.8" cy="1052.86" r="2.9" stroke-width="0.75" fill="none" stroke="#aaa"/>
<circle cx="380.8" cy="1052.86" r="1" stroke-width="0.6" fill="none" stroke="#999"/>
<path d="M328.5 1393 L391.8 1393 L392.3 1420 L389 1425 L331 1425 L327.9 1420 Z" stroke-width="2" fill="none"/>
<line x1="329" y1="1399.8" x2="391.5" y2="1397.2" stroke-width="2.6"/>
<line x1="329" y1="1405.3" x2="391.5" y2="1402.7" stroke-width="2.6"/>
<line x1="329" y1="1410.8" x2="391.5" y2="1408.2" stroke-width="2.6"/>
<line x1="329" y1="1416.3" x2="391.5" y2="1413.7" stroke-width="2.6"/>
<line x1="329" y1="1421.8" x2="391.5" y2="1419.2" stroke-width="2.6"/>
<line x1="329.5" y1="1425" x2="329.5" y2="1489" stroke-width="1.3"/>
<line x1="391.5" y1="1425" x2="391.5" y2="1489" stroke-width="1.3"/>
<line x1="283" y1="1477.5" x2="506" y2="1477.5" stroke-width="1.3"/>
<path d="M329 1477.2 L298.8 1482.2 L298.8 1472.2 Z" fill="#000" stroke="none"/>
<path d="M391 1477.2 L421.6 1472.2 L421.6 1482.2 Z" fill="#000" stroke="none"/>
<text x="465" y="1471" font-size="36" text-anchor="middle" fill="#000" stroke="none" letter-spacing="0.7">G1/2</text>
<line x1="743.5" y1="925" x2="743.5" y2="1033" stroke-width="1.3"/>
<line x1="974.5" y1="925" x2="974.5" y2="1033" stroke-width="1.3"/>
<line x1="743.5" y1="936.5" x2="974.8" y2="936.5" stroke-width="1.3"/>
<path d="M743.5 936.2 L773.9 931.2 L773.9 941.2 Z" fill="#000" stroke="none"/>
<path d="M974.8 936.2 L944.9 941.2 L944.9 931.2 Z" fill="#000" stroke="none"/>
<rect x="818" y="906" width="23" height="22.5" rx="0" stroke-width="2.4" fill="none"/>
<text x="850.5" y="930" font-size="36" text-anchor="start" fill="#000" stroke="none" letter-spacing="0.7">122</text>
<line x1="773.5" y1="978.8" x2="773.5" y2="1078" stroke-width="1.3"/>
<line x1="944.5" y1="978.8" x2="944.5" y2="1078" stroke-width="1.3"/>
<line x1="773.9" y1="989.5" x2="944.4" y2="989.5" stroke-width="1.3"/>
<path d="M773.9 989.7 L804.3 984.7 L804.3 994.7 Z" fill="#000" stroke="none"/>
<path d="M944.4 989.7 L914.5 994.7 L914.5 984.7 Z" fill="#000" stroke="none"/>
<text x="859.2" y="983.4" font-size="36" text-anchor="middle" fill="#000" stroke="none" letter-spacing="0.7">90</text>
<rect x="743.6" y="1033.6" width="231.3" height="231.3" rx="8" stroke-width="2" fill="none"/>
<circle cx="767.1" cy="1057.1" r="7.6" stroke-width="1.6" fill="none"/>
<path d="M770.56 1059.1 L767.1 1061.1 L763.64 1059.1 L763.64 1055.1 L767.1 1053.1 L770.56 1055.1 Z" stroke-width="1.5" fill="none"/>
<circle cx="951" cy="1057.1" r="7.6" stroke-width="1.6" fill="none"/>
<path d="M954.46 1059.1 L951 1061.1 L947.54 1059.1 L947.54 1055.1 L951 1053.1 L954.46 1055.1 Z" stroke-width="1.5" fill="none"/>
<circle cx="767.1" cy="1241" r="7.6" stroke-width="1.6" fill="none"/>
<path d="M770.56 1243 L767.1 1245 L763.64 1243 L763.64 1239 L767.1 1237 L770.56 1239 Z" stroke-width="1.5" fill="none"/>
<circle cx="951" cy="1241" r="7.6" stroke-width="1.6" fill="none"/>
<path d="M954.46 1243 L951 1245 L947.54 1243 L947.54 1239 L951 1237 L954.46 1239 Z" stroke-width="1.5" fill="none"/>
<circle cx="773.9" cy="1078" r="8.7" stroke-width="1.6" fill="none"/>
<circle cx="944.4" cy="1078" r="8.7" stroke-width="1.6" fill="none"/>
<circle cx="773.9" cy="1220" r="8.7" stroke-width="1.6" fill="none"/>
<circle cx="944.4" cy="1220" r="8.7" stroke-width="1.6" fill="none"/>
<path d="M784 1091.3 L822.7 1071.3 Q860 1055 897.3 1071.3 L934.7 1091.3 Q945 1098 948.3 1111.3 L948.7 1187.3 Q946 1198 937.4 1207.3 L870.3 1245.7" stroke-width="2.1" fill="none"/>
<path d="M784 1091.3 Q774 1098 770.7 1111.3 L770.4 1187.3 Q772 1198 780.5 1207.3 L848.5 1245.7" stroke-width="2.1" fill="none"/>
<line x1="770.6" y1="1111" x2="770.6" y2="1135" stroke-width="2.8"/>
<line x1="948.4" y1="1111" x2="948.4" y2="1135" stroke-width="2.8"/>
<path d="M843.5 1241.5 L847.2 1234.3 Q859.5 1237 871.7 1234.3 L875.5 1240.5" stroke-width="2" fill="none"/>
<circle cx="859.2" cy="1148.8" r="76.8" stroke-width="1.7" fill="none"/>
<path d="M786.12 1125.2 L793.62 1125.2 A69.7 69.7 0 0 1 924.78 1125.2 L932.28 1125.2" stroke-width="1.7" fill="none"/>
<path d="M786.12 1172.4 L793.62 1172.4 A69.7 69.7 0 0 0 924.78 1172.4 L932.28 1172.4" stroke-width="1.7" fill="none"/>
<circle cx="859.2" cy="1148.8" r="16.4" stroke-width="1.6" fill="none"/>
<line x1="849.2" y1="1148.8" x2="869.2" y2="1148.8" stroke-width="2.2"/>
<line x1="859.2" y1="1138.8" x2="859.2" y2="1158.8" stroke-width="2.2"/>
<circle cx="859.2" cy="1148.8" r="2.6" stroke-width="1.2" fill="#fff"/>
<text x="859.4" y="1120.8" font-size="10.4" text-anchor="middle" fill="#333" stroke="#333" stroke-width="0.35">59553 000070</text>
<path d="M744.8 1129.4 L766 1129.4 L769.2 1132.5 L769.2 1166 L766 1169 L744.8 1169 Z" stroke-width="1.8" fill="none"/>
<line x1="747.5" y1="1130" x2="747.5" y2="1168.5" stroke-width="1.2"/>
<line x1="764.5" y1="1130" x2="764.5" y2="1168.5" stroke-width="1"/>
<line x1="767.5" y1="1131" x2="767.5" y2="1167" stroke-width="1"/>
<path d="M974.9 1129.4 L953 1129.4 L949.6 1132.5 L949.6 1166 L953 1169 L974.9 1169" stroke-width="1.8" fill="none"/>
<line x1="972.8" y1="1129.4" x2="972.8" y2="1169" stroke-width="2.6"/>
<line x1="954.5" y1="1130" x2="954.5" y2="1168.5" stroke-width="1"/>
<line x1="951.5" y1="1131" x2="951.5" y2="1167" stroke-width="1"/>
<line x1="713.5" y1="1083.5" x2="713.5" y2="1281.4" stroke-width="1.3"/>
<path d="M713.5 1129.4 L708.5 1098.5 L718.5 1098.5 Z" fill="#000" stroke="none"/>
<path d="M713.5 1169 L718.5 1199.8 L708.5 1199.8 Z" fill="#000" stroke="none"/>
<line x1="701.7" y1="1129.5" x2="744" y2="1129.5" stroke-width="1.3"/>
<line x1="701.7" y1="1169.5" x2="744" y2="1169.5" stroke-width="1.3"/>
<text x="707" y="1241" font-size="36" text-anchor="middle" fill="#000" stroke="none" transform="rotate(-90 707 1241)" letter-spacing="0.7">G1/2</text>
<line x1="944.4" y1="1078.5" x2="1031.3" y2="1078.5" stroke-width="1.3"/>
<line x1="944.4" y1="1220.5" x2="1031.3" y2="1220.5" stroke-width="1.3"/>
<line x1="1020.5" y1="1078" x2="1020.5" y2="1220" stroke-width="1.3"/>
<path d="M1020 1078.2 L1025 1108 L1015 1108 Z" fill="#000" stroke="none"/>
<path d="M1020 1220 L1015 1189.6 L1025 1189.6 Z" fill="#000" stroke="none"/>
<text x="1013.5" y="1149.5" font-size="36" text-anchor="middle" fill="#000" stroke="none" transform="rotate(-90 1013.5 1149.5)" letter-spacing="0.7">75</text>
<path d="M796.75 1218.97 L829.65 1237.97 L818.15 1257.89 L785.25 1238.89 Z" stroke-width="1.9" fill="none"/>
<line x1="798.91" y1="1220.22" x2="787.41" y2="1240.14" stroke-width="1"/>
<line x1="827.49" y1="1236.72" x2="815.99" y2="1256.64" stroke-width="1"/>
<line x1="795.5" y1="1221.14" x2="828.4" y2="1240.14" stroke-width="1"/>
<line x1="785.9" y1="1237.77" x2="818.8" y2="1256.77" stroke-width="2.2"/>
<line x1="818.2" y1="1219.81" x2="814.2" y2="1226.74" stroke-width="1"/>
<line x1="812.2" y1="1230.21" x2="809.2" y2="1235.4" stroke-width="1"/>
<line x1="807.2" y1="1238.87" x2="804.2" y2="1244.06" stroke-width="1"/>
<line x1="802.2" y1="1247.53" x2="799.2" y2="1252.72" stroke-width="1"/>
<line x1="801.7" y1="1248.39" x2="764.2" y2="1313.34" stroke-width="1.3"/>
<path d="M888.75 1237.97 L921.65 1218.97 L933.15 1238.89 L900.25 1257.89 Z" stroke-width="1.9" fill="none"/>
<line x1="890.91" y1="1236.72" x2="902.41" y2="1256.64" stroke-width="1"/>
<line x1="919.49" y1="1220.22" x2="930.99" y2="1240.14" stroke-width="1"/>
<line x1="890" y1="1240.14" x2="922.9" y2="1221.14" stroke-width="1"/>
<line x1="899.6" y1="1256.77" x2="932.5" y2="1237.77" stroke-width="2.2"/>
<line x1="900.2" y1="1219.81" x2="904.2" y2="1226.74" stroke-width="1"/>
<line x1="906.2" y1="1230.21" x2="909.2" y2="1235.4" stroke-width="1"/>
<line x1="911.2" y1="1238.87" x2="914.2" y2="1244.06" stroke-width="1"/>
<line x1="916.2" y1="1247.53" x2="919.2" y2="1252.72" stroke-width="1"/>
<line x1="916.7" y1="1248.39" x2="954.2" y2="1313.34" stroke-width="1.3"/>
<path d="M769.8 1303.65 A178.8 178.8 0 0 0 948.6 1303.65" stroke-width="1.3" fill="none"/>
<path d="M769.8 1303.65 L799.29 1311.97 L795.04 1321.02 Z" fill="#000" stroke="none"/>
<path d="M948.6 1303.65 L923.36 1321.02 L919.11 1311.97 Z" fill="#000" stroke="none"/>
<text x="859.5" y="1321.8" font-size="36" text-anchor="middle" fill="#000" stroke="none" letter-spacing="0.7">60</text>
<circle cx="884.5" cy="1293.8" r="4.8" stroke-width="2.8" fill="none"/>
<line x1="1091.5" y1="981" x2="1091.5" y2="1331" stroke-width="1.3"/>
<line x1="1299.5" y1="981" x2="1299.5" y2="1078" stroke-width="1.3"/>
<line x1="1091.2" y1="991.5" x2="1299.2" y2="991.5" stroke-width="1.3"/>
<path d="M1091.2 991.8 L1121.6 986.8 L1121.6 996.8 Z" fill="#000" stroke="none"/>
<path d="M1299.2 991.8 L1269.8 996.8 L1269.8 986.8 Z" fill="#000" stroke="none"/>
<text x="1195.6" y="985.4" font-size="36" text-anchor="middle" fill="#000" stroke="none" letter-spacing="0.9">80-110</text>
<line x1="1368" y1="1077.5" x2="1427.2" y2="1077.5" stroke-width="1.3"/>
<line x1="1368" y1="1221.5" x2="1427.2" y2="1221.5" stroke-width="1.3"/>
<line x1="1416.5" y1="1077.6" x2="1416.5" y2="1221" stroke-width="1.3"/>
<path d="M1416 1077.8 L1421 1106.4 L1411 1106.4 Z" fill="#000" stroke="none"/>
<path d="M1416 1221 L1411 1191.2 L1421 1191.2 Z" fill="#000" stroke="none"/>
<text x="1409.6" y="1149" font-size="36" text-anchor="middle" fill="#000" stroke="none" transform="rotate(-90 1409.6 1149)" letter-spacing="0.7">Ø76</text>
<line x1="1046.4" y1="1320.5" x2="1214.4" y2="1320.5" stroke-width="1.3"/>
<path d="M1091.2 1320.2 L1061.8 1325.2 L1061.8 1315.2 Z" fill="#000" stroke="none"/>
<path d="M1136.6 1320.2 L1167.4 1315.2 L1167.4 1325.2 Z" fill="#000" stroke="none"/>
<line x1="1136.5" y1="1250" x2="1136.5" y2="1331" stroke-width="1.3"/>
<text x="1194" y="1313.8" font-size="36" text-anchor="middle" fill="#000" stroke="none" letter-spacing="0.7">24</text>
<rect x="1091.2" y="1033.5" width="6.2" height="231.3" rx="0" stroke-width="2" fill="none"/>
<line x1="1091.2" y1="1043.5" x2="1097.4" y2="1043.5" stroke-width="1.3"/>
<line x1="1091.2" y1="1255.5" x2="1097.4" y2="1255.5" stroke-width="1.3"/>
<rect x="1097.4" y="1050" width="9.1" height="14.4" rx="0" stroke-width="2" fill="none"/>
<rect x="1097.4" y="1233.5" width="9.1" height="15.3" rx="0" stroke-width="2" fill="none"/>
<path d="M1106.5 1063.5 L1173.5 1063.5 Q1176.5 1063.5 1176.5 1066.5 L1176.5 1233" stroke-width="2.1" fill="none"/>
<line x1="1097.4" y1="1063.5" x2="1106.5" y2="1063.5" stroke-width="2"/>
<line x1="1137" y1="1063.5" x2="1137" y2="1110.4" stroke-width="2"/>
<path d="M1111.4 1073.1 L1162.8 1073.1 Q1160.5 1080 1160.4 1086.3 L1160.4 1118" stroke-width="1.6" fill="none"/>
<path d="M1111.4 1073.1 Q1113.6 1080 1113.8 1086.3 L1113.8 1118" stroke-width="1.6" fill="none"/>
<line x1="1113.8" y1="1181" x2="1113.8" y2="1209.4" stroke-width="1.6"/>
<line x1="1160.4" y1="1181" x2="1160.4" y2="1209.4" stroke-width="1.6"/>
<rect x="1124.2" y="1092.7" width="12.8" height="16.9" rx="0" stroke-width="2" fill="none"/>
<rect x="1137" y="1189.2" width="12.2" height="16.1" rx="0" stroke-width="2" fill="none"/>
<circle cx="1136.9" cy="1148.5" r="38.6" stroke-width="2.2" fill="#fff"/>
<circle cx="1136.9" cy="1148.5" r="19.8" stroke-width="2.2" fill="none"/>
<circle cx="1136.9" cy="1148.5" r="14.4" stroke-width="2.2" fill="none"/>
<defs><path id="arcT" d="M1114.35 1140.29 A24 24 0 0 1 1157.25 1135.78"/><path id="arcB" d="M1162.68 1149.4 A25.8 25.8 0 0 1 1111.87 1154.74"/><path id="arcH" d="M1103 1232 Q1136.9 1202 1172 1230"/></defs>
<text font-size="7.4" fill="#000" stroke="#000" stroke-width="0.35"><textPath href="#arcT" textLength="54" lengthAdjust="spacing">OUT TO VALVE</textPath></text>
<text font-size="7.0" fill="#000" stroke="#000" stroke-width="0.35"><textPath href="#arcB" textLength="73" lengthAdjust="spacing">AUSGANG ZUM VENTIL</textPath></text>
<ellipse cx="1136.9" cy="1224.4" rx="38.9" ry="18.2" stroke-width="2.2" fill="#fff"/>
<text font-size="5.6" fill="#000" stroke="none" font-weight="bold"><textPath href="#arcH" startOffset="50%" text-anchor="middle">HOT WATER</textPath></text>
<path d="M1116.3 1227 L1116.3 1248.5 A20.6 9.5 0 0 0 1157.6 1248.5 L1157.6 1227" stroke-width="2.2" fill="#fff"/>
<ellipse cx="1136.9" cy="1227" rx="20.6" ry="5.5" stroke-width="2.2" fill="#fff"/>
<path d="M1116.3 1229 A20.6 9 0 0 0 1157.6 1229" stroke-width="2" fill="none"/>
<path d="M1116.3 1234.5 A20.6 9 0 0 0 1157.6 1234.5" stroke-width="2" fill="none"/>
<path d="M1116.3 1240 A20.6 9 0 0 0 1157.6 1240" stroke-width="2" fill="none"/>
<ellipse cx="1136.9" cy="1249.6" rx="14" ry="7" stroke-width="2.2" fill="#fff"/>
<path d="M1176.5 1075.8 L1218.4 1075.8 L1218.4 1222.9 L1176.5 1222.9" stroke-width="2.1" fill="none"/>
<line x1="1218.4" y1="1075.7" x2="1218.4" y2="1222.9" stroke-width="2.8"/>
<path d="M1218.4 1077.5 L1329.7 1077.5 M1218.4 1221 L1329.7 1221" stroke-width="2.2" fill="none"/>
<line x1="1242.8" y1="1077.5" x2="1242.8" y2="1221" stroke-width="2"/>
<line x1="1299.5" y1="1077.5" x2="1299.5" y2="1125.8" stroke-width="2"/>
<line x1="1299.5" y1="1172.8" x2="1299.5" y2="1221" stroke-width="2"/>
<rect x="1329.7" y="1073.9" width="38.1" height="150.2" rx="1.5" stroke-width="2.2" fill="none"/>
<line x1="1329.7" y1="1077.5" x2="1367.8" y2="1077.5" stroke-width="1"/>
<line x1="1329.7" y1="1221.5" x2="1367.8" y2="1221.5" stroke-width="1"/>
<rect x="1278.2" y="1125.8" width="51.8" height="47" rx="0" stroke-width="2" fill="none"/>
<line x1="1320" y1="1125.8" x2="1320" y2="1172.8" stroke-width="1.6"/>
<line x1="1330" y1="1125.8" x2="1367.8" y2="1125.8" stroke-width="2"/>
<line x1="1330" y1="1172.8" x2="1367.8" y2="1172.8" stroke-width="2"/>
<line x1="1256" y1="1159" x2="1268" y2="1145" stroke-width="0.9" stroke="#555"/>
<line x1="1259.2" y1="1159" x2="1271.2" y2="1145" stroke-width="0.9" stroke="#555"/>
<line x1="1262.4" y1="1159" x2="1271.5" y2="1148.38" stroke-width="0.9" stroke="#555"/>
<line x1="1265.6" y1="1159" x2="1271.5" y2="1152.12" stroke-width="0.9" stroke="#555"/>
<line x1="1268.8" y1="1159" x2="1271.5" y2="1155.85" stroke-width="0.9" stroke="#555"/>
<rect x="1246" y="1140" width="12" height="23" rx="0" stroke-width="0" fill="#fff" stroke="none"/>
<path d="M1258 1144.5 L1250.5 1144.5 Q1249 1152 1250.5 1159.5 L1258 1159.5" stroke-width="1.4" fill="none"/>
<line x1="1258" y1="1144.5" x2="1272" y2="1144.5" stroke-width="1.2"/>
<line x1="1258" y1="1159.5" x2="1272" y2="1159.5" stroke-width="1.2"/>
<rect x="1272" y="1136" width="6.2" height="16" rx="0" stroke-width="0" fill="#000" stroke="none"/>
<rect x="1272" y="1152" width="6.2" height="9.5" rx="0" stroke-width="1.2" fill="none"/>
<line x1="1249.5" y1="1098.4" x2="1260.7" y2="1098.4" stroke-width="2.4" stroke="#888"/>
<line x1="1249.5" y1="1098.5" x2="1260.7" y2="1098.5" stroke-width="1" stroke="#fff"/>
<path d="M1244.4 1098.4 L1250 1096.2 L1250 1100.6 Z" stroke-width="0.9" fill="#fff" stroke="#666"/>
<line x1="1282" y1="1098.4" x2="1292.5" y2="1098.4" stroke-width="2.4" stroke="#888"/>
<line x1="1282" y1="1098.5" x2="1292.5" y2="1098.5" stroke-width="1" stroke="#fff"/>
<path d="M1298 1098.4 L1292.4 1096.2 L1292.4 1100.6 Z" stroke-width="0.9" fill="#fff" stroke="#666"/>
<rect x="1263" y="1094.4" width="5" height="8.5" rx="0" stroke-width="0" fill="#333" stroke="none"/>
<rect x="1277" y="1093" width="4.2" height="11.6" rx="0" stroke-width="0" fill="#333" stroke="none"/>
<line x1="1249.5" y1="1200.2" x2="1260.7" y2="1200.2" stroke-width="2.4" stroke="#888"/>
<line x1="1249.5" y1="1200.5" x2="1260.7" y2="1200.5" stroke-width="1" stroke="#fff"/>
<path d="M1244.4 1200.2 L1250 1198 L1250 1202.4 Z" stroke-width="0.9" fill="#fff" stroke="#666"/>
<line x1="1282" y1="1200.2" x2="1292.5" y2="1200.2" stroke-width="2.4" stroke="#888"/>
<line x1="1282" y1="1200.5" x2="1292.5" y2="1200.5" stroke-width="1" stroke="#fff"/>
<path d="M1298 1200.2 L1292.4 1198 L1292.4 1202.4 Z" stroke-width="0.9" fill="#fff" stroke="#666"/>
<rect x="1263" y="1196.2" width="5" height="8.5" rx="0" stroke-width="0" fill="#333" stroke="none"/>
<rect x="1277" y="1194.8" width="4.2" height="11.6" rx="0" stroke-width="0" fill="#333" stroke="none"/>
<text x="1433" y="-1480" font-size="14" text-anchor="middle" fill="#c8c8c8" stroke="none" transform="rotate(90)" textLength="98" lengthAdjust="spacing">фрянофв</text>
<rect x="93.74" y="39.22" width="7.04" height="4.32" fill="#fff" stroke="none" transform="rotate(-90 103.5 43)"/>
<rect x="103.94" y="39.22" width="6.89" height="4.32" fill="#fff" stroke="none" transform="rotate(-90 103.5 43)"/>
<rect x="512.24" y="237.52" width="7.04" height="4.32" fill="#fff" stroke="none"/>
<rect x="522.44" y="237.52" width="6.89" height="4.32" fill="#fff" stroke="none"/>
<rect x="228.25" y="238.72" width="7.04" height="4.32" fill="#fff" stroke="none"/>
<rect x="238.46" y="238.72" width="6.89" height="4.32" fill="#fff" stroke="none"/>
<rect x="1267.25" y="703.88" width="8.6" height="5.28" fill="#fff" stroke="none"/>
<rect x="1279.72" y="703.88" width="8.43" height="5.28" fill="#fff" stroke="none"/>
<rect x="415.09" y="1104.22" width="7.04" height="4.32" fill="#fff" stroke="none" transform="rotate(-90 444.2 1108)"/>
<rect x="425.3" y="1104.22" width="6.89" height="4.32" fill="#fff" stroke="none" transform="rotate(-90 444.2 1108)"/>
<rect x="455.24" y="1467.22" width="7.04" height="4.32" fill="#fff" stroke="none"/>
<rect x="465.44" y="1467.22" width="6.89" height="4.32" fill="#fff" stroke="none"/>
<rect x="852.48" y="926.22" width="7.04" height="4.32" fill="#fff" stroke="none"/>
<rect x="862.69" y="926.22" width="6.89" height="4.32" fill="#fff" stroke="none"/>
<rect x="697.24" y="1237.22" width="7.04" height="4.32" fill="#fff" stroke="none" transform="rotate(-90 707 1241)"/>
<rect x="707.44" y="1237.22" width="6.89" height="4.32" fill="#fff" stroke="none" transform="rotate(-90 707 1241)"/>
<rect x="1194.88" y="981.62" width="7.04" height="4.32" fill="#fff" stroke="none"/>
<rect x="1205.09" y="981.62" width="6.89" height="4.32" fill="#fff" stroke="none"/>
<rect x="1213.13" y="981.62" width="7.04" height="4.32" fill="#fff" stroke="none"/>
<rect x="1223.34" y="981.62" width="6.89" height="4.32" fill="#fff" stroke="none"/>
</svg>
</body></html>
